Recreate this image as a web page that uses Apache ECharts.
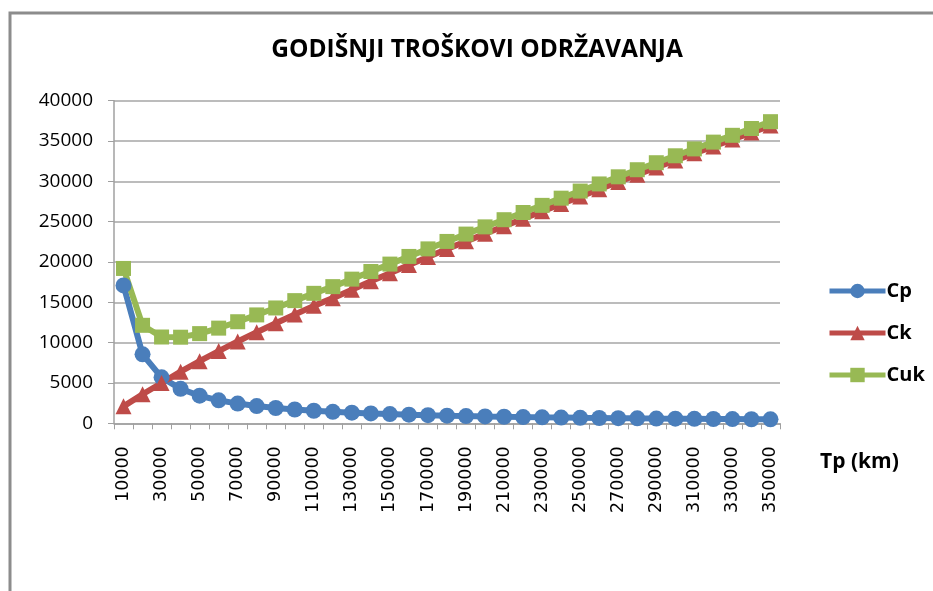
<!DOCTYPE html>
<html>
<head>
<meta charset="UTF-8">
<title>Godišnji troškovi održavanja</title>
<script src="https://cdn.jsdelivr.net/npm/echarts@6/dist/echarts.min.js"></script>
<style>
  html, body { margin: 0; padding: 0; background: #fff; }
  #main { width: 933px; height: 591px; }
</style>
</head>
<body>
<div id="main"></div>
<script>
// kategorije: Tp (km)
var tp = [10000, 20000, 30000, 40000, 50000, 60000, 70000, 80000, 90000, 100000,
  110000, 120000, 130000, 140000, 150000, 160000, 170000, 180000, 190000, 200000,
  210000, 220000, 230000, 240000, 250000, 260000, 270000, 280000, 290000, 300000,
  310000, 320000, 330000, 340000, 350000];

// Cp
var cp = [17100, 8550, 5700, 4275, 3420, 2850, 2443, 2138, 1900, 1710,
  1555, 1425, 1315, 1221, 1140, 1069, 1006, 950, 900, 855,
  814, 777, 743, 713, 684, 658, 633, 611, 590, 570,
  552, 534, 518, 503, 489];

// Ck
var ck = [2100, 3600, 5000, 6400, 7700, 8950, 10150, 11300, 12400, 13500,
  14560, 15520, 16560, 17600, 18600, 19620, 20620, 21600, 22560, 23500,
  24430, 25360, 26280, 27200, 28110, 29020, 29930, 30830, 31720, 32600,
  33470, 34330, 35190, 36050, 36910];

// Cuk
var cuk = [19200, 12150, 10700, 10675, 11120, 11800, 12593, 13438, 14300, 15210,
  16115, 16945, 17875, 18821, 19740, 20689, 21626, 22550, 23460, 24355,
  25244, 26137, 27023, 27913, 28794, 29678, 30563, 31441, 32310, 33170,
  34022, 34864, 35708, 36553, 37399];

var yTicks = [0, 5000, 10000, 15000, 20000, 25000, 30000, 35000, 40000];

var myChart = echarts.init(document.getElementById('main'));

var option = {
  animation: false,
  backgroundColor: '#fff',
  title: {
    text: 'GODIŠNJI TROŠKOVI ODRŽAVANJA',
    left: 472,
    top: 33,
    textAlign: 'center',
    textStyle: { fontFamily: 'Open Sans', fontWeight: 'bold', fontSize: 24.5, color: '#000' }
  },
  graphic: [{
    // okvir grafikona
    type: 'rect',
    shape: { x: 10, y: 13, width: 1000, height: 700 },
    style: { fill: 'none', stroke: '#8c8c8c', lineWidth: 3 },
    silent: true
  }, {
    type: 'text',
    left: 820,
    top: 452,
    style: { text: 'Tp (km)', fontFamily: 'Open Sans', fontWeight: 'bold', fontSize: 21, fill: '#000' }
  }],
  legend: {
    orient: 'vertical',
    left: 822,
    top: 276,
    itemWidth: 56,
    itemHeight: 18,
    itemGap: 22,
    data: ['Cp', 'Ck', 'Cuk'],
    lineStyle: { width: 5 },
    textStyle: { fontFamily: 'Open Sans', fontWeight: 'bold', fontSize: 20, color: '#000', padding: [0, 0, 0, -4] }
  },
  grid: { left: 114, right: 153, top: 100.7, bottom: 167.7 },
  xAxis: {
    type: 'category',
    data: tp,
    boundaryGap: true,
    axisLine: { lineStyle: { color: '#a0a0a0', width: 1.5 } },
    axisTick: { show: true, interval: 0, length: 6, lineStyle: { color: '#a0a0a0' } },
    axisLabel: {
      interval: 1,
      rotate: 90,
      margin: 23,
      fontFamily: 'DejaVu Sans',
      fontSize: 17.5,
      color: '#000'
    }
  },
  yAxis: {
    type: 'value',
    min: yTicks[0],
    max: yTicks[yTicks.length - 1],
    interval: 5000,
    axisLine: { show: true, lineStyle: { color: '#a0a0a0', width: 1.5 } },
    axisTick: { show: true, length: 6, lineStyle: { color: '#a0a0a0' } },
    splitLine: { lineStyle: { color: '#a6a6a6', width: 1.5 } },
    axisLabel: {
      margin: 21,
      fontFamily: 'Open Sans',
      fontSize: 19,
      color: '#000',
      formatter: function (v) { return String(v); }
    }
  },
  series: [{
    name: 'Cp',
    type: 'line',
    data: cp,
    symbol: 'circle',
    symbolSize: 16,
    showAllSymbol: true,
    color: '#4a7ebb',
    lineStyle: { width: 6 }
  }, {
    name: 'Ck',
    type: 'line',
    data: ck,
    symbol: 'triangle',
    symbolSize: 16,
    showAllSymbol: true,
    color: '#be4b48',
    lineStyle: { width: 6 }
  }, {
    name: 'Cuk',
    type: 'line',
    data: cuk,
    symbol: 'rect',
    symbolSize: 15,
    showAllSymbol: true,
    color: '#98b954',
    lineStyle: { width: 6 }
  }]
};

myChart.setOption(option);
</script>
</body>
</html>
